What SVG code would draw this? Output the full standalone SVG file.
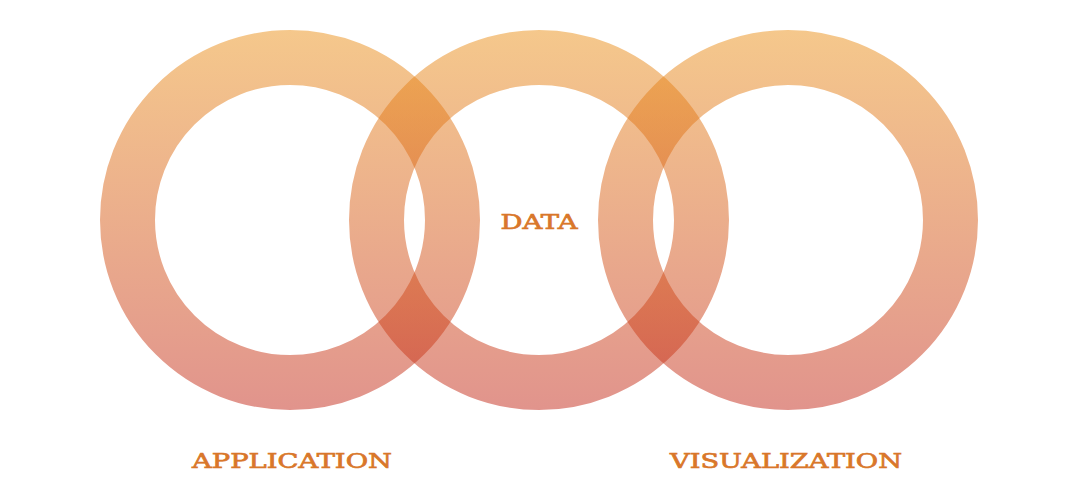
<svg xmlns="http://www.w3.org/2000/svg" width="1080" height="500" viewBox="0 0 1080 500">
  <defs>
    <linearGradient id="ringGrad" gradientUnits="userSpaceOnUse" x1="0" y1="30" x2="0" y2="410">
      <stop offset="0" stop-color="#EB9119"/>
      <stop offset="1" stop-color="#C3291A"/>
    </linearGradient>
    <style>
      .ring { fill: none; stroke: url(#ringGrad); stroke-width: 55; stroke-opacity: 0.5; }
      .label { font-family: "DejaVu Serif", "Liberation Serif", serif; font-size: 21px; fill: #D9772A; stroke: #D9772A; stroke-width: 0.7; text-anchor: middle; }
    </style>
  </defs>
  <rect width="1080" height="500" fill="#FFFFFF"/>
  <g id="rings">
    <g id="ring-application"><circle class="ring" cx="290" cy="220" r="162.5"/></g>
    <g id="ring-data"><circle class="ring" cx="539" cy="220" r="162.5"/></g>
    <g id="ring-visualization"><circle class="ring" cx="788" cy="220" r="162.5"/></g>
  </g>
  <g id="connectors"/>
  <g id="label-data"><text class="label" x="539" y="229" textLength="77" lengthAdjust="spacingAndGlyphs">DATA</text></g>
  <g id="label-application"><text class="label" x="292" y="468" textLength="200" lengthAdjust="spacingAndGlyphs">APPLICATION</text></g>
  <g id="label-visualization"><text class="label" x="786" y="468" textLength="232" lengthAdjust="spacingAndGlyphs">VISUALIZATION</text></g>
</svg>
